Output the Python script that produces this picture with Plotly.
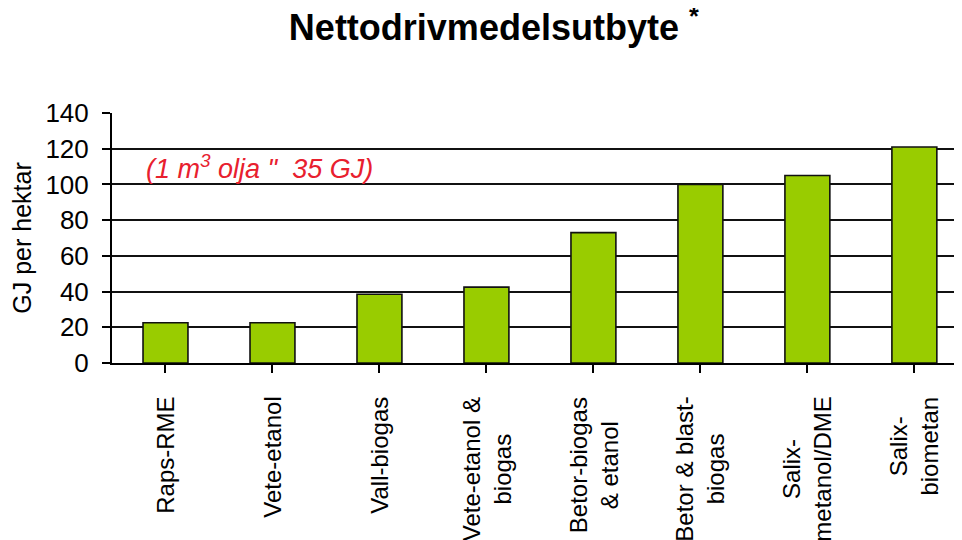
import plotly.graph_objects as go

# fuel pathways (x labels, line breaks as in the original)
CATEGORIES = ["Raps-RME", "Vete-etanol", "Vall-biogas", "Vete-etanol &<br>biogas",
              "Betor-biogas<br>& etanol", "Betor & blast-<br>biogas",
              "Salix-<br>metanol/DME", "Salix-<br>biometan"]
# net fuel yield, GJ per hectare
GJ_PER_HA = [22.5, 22.5, 38.5, 42.5, 73, 100, 105, 121]

Y_TICKS = [0, 20, 40, 60, 80, 100, 120, 140]

TITLE = "Nettodrivmedelsutbyte <sup>*</sup>"
NOTE = "(1 m<sup>3</sup> olja \"  35 GJ)"

FONT = "Liberation Sans, Arial, sans-serif"

xpos = list(range(len(CATEGORIES)))

fig = go.Figure()
fig.add_trace(go.Bar(
    x=xpos,
    y=GJ_PER_HA,
    width=0.42,
    marker=dict(color="#99cc00", line=dict(color="#111111", width=1.6)),
    showlegend=False))

# the rotated category labels, lines centred like the original
for i, lab in enumerate(CATEGORIES):
    fig.add_annotation(x=i, xref="x", y=-0.127, yref="paper",
                       text=lab, textangle=-90, showarrow=False,
                       xanchor="center", yanchor="top", align="center",
                       font=dict(family=FONT, size=24, color="black"))

fig.add_annotation(x=-0.2, xref="x", y=110, yref="y",
                   text=NOTE, showarrow=False, xanchor="left", yanchor="middle",
                   font=dict(family=FONT, size=27, color="#e8202e", style="italic"))

# page body adds 8px, so margins are pulled in by that much
fig.update_layout(
    width=962, height=540,
    margin=dict(l=104, r=0, t=105, b=185),
    paper_bgcolor="white", plot_bgcolor="white",
    font=dict(family=FONT, color="black"),
    title=dict(text=TITLE, x=0.505, xref="container", xanchor="center",
               y=0.964, yref="container", yanchor="middle",
               font=dict(family=FONT, size=36, color="black", weight="bold")),
)

fig.update_xaxes(
    range=[-0.5, 7.52], automargin=False,
    tickmode="array", tickvals=xpos, showticklabels=False,
    tickson="boundaries", ticks="outside", ticklen=8, tickwidth=2, tickcolor="black",
    showline=True, linecolor="black", linewidth=2,
    showgrid=False, zeroline=False, fixedrange=True)

fig.update_yaxes(
    range=[0, 140], tickvals=Y_TICKS, automargin=False,
    ticks="outside", ticklen=8, tickwidth=2, tickcolor="black",
    ticklabelstandoff=8,
    tickfont=dict(family=FONT, size=26, color="black"),
    showline=True, linecolor="black", linewidth=2,
    showgrid=True, gridcolor="#111111", gridwidth=1.6, zeroline=False,
    title=dict(text="GJ per hektar", standoff=9,
               font=dict(family=FONT, size=25, color="black")),
    fixedrange=True)

fig.write_html("out.html")
